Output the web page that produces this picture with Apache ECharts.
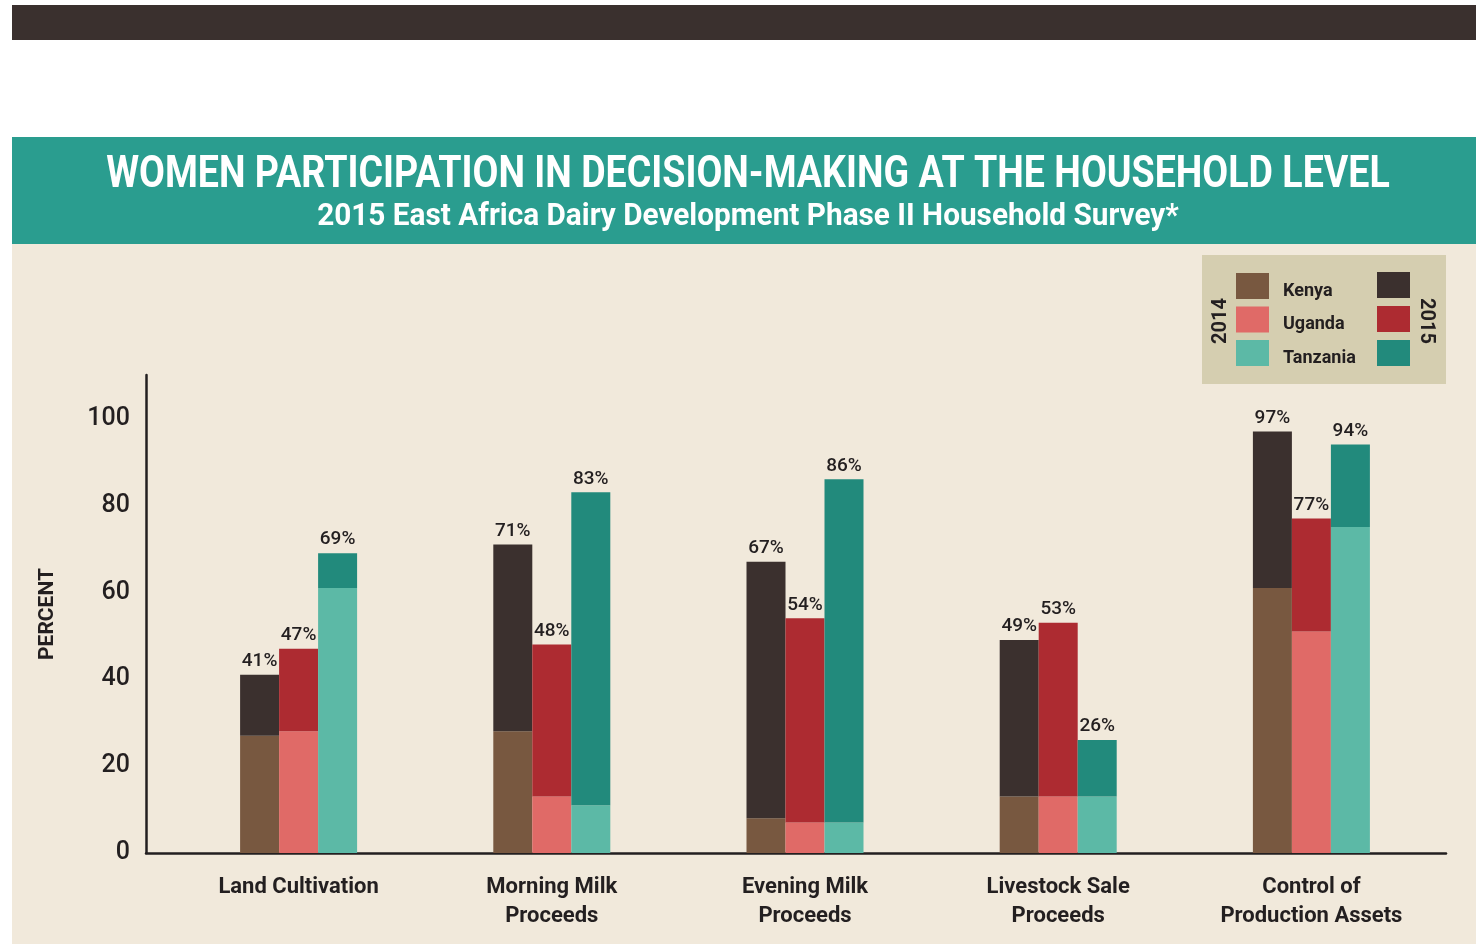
<!DOCTYPE html>
<html>
<head>
<meta charset="utf-8">
<script src="https://cdn.jsdelivr.net/npm/echarts@6/dist/echarts.min.js"></script>
<style>
  body { margin: 0; background: #fff; }
  #chart { width: 1476px; height: 944px; }
</style>
</head>
<body>
<div id="chart"></div>
<script>
// categories and values (percent)
let categories = ['Land Cultivation', 'Morning Milk\nProceeds', 'Evening Milk\nProceeds', 'Livestock Sale\nProceeds', 'Control of\nProduction Assets'];
let countries = ['Kenya', 'Uganda', 'Tanzania'];
let kenya2014 = [27, 28, 8, 13, 61];
let kenya2015 = [41, 71, 67, 49, 97];
let uganda2014 = [28, 13, 7, 13, 51];
let uganda2015 = [47, 48, 54, 53, 77];
let tanzania2014 = [61, 11, 7, 13, 75];
let tanzania2015 = [69, 83, 86, 26, 94];
let yTicks = [0, 20, 40, 60, 80, 100];

let colors2014 = ['#785840', '#e06a67', '#5cb9a6'];
let colors2015 = ['#3b302e', '#ad2b31', '#228a7c'];
let ink = '#231f20';

let myChart = echarts.init(document.getElementById('chart'));

let data2014 = [kenya2014, uganda2014, tanzania2014];
let data2015 = [kenya2015, uganda2015, tanzania2015];

let series = [];
for (let c = 0; c < countries.length; c++) {
    let base = data2014[c];
    let total = data2015[c];
    series.push({
        name: countries[c] + ' 2014',
        type: 'bar',
        xAxisIndex: 1,
        yAxisIndex: 1,
        stack: countries[c],
        barWidth: 39,
        barGap: '0%',
        itemStyle: {color: colors2014[c]},
        data: base
    });
    series.push({
        name: countries[c] + ' 2015',
        type: 'bar',
        xAxisIndex: 1,
        yAxisIndex: 1,
        stack: countries[c],
        barWidth: 39,
        barGap: '0%',
        itemStyle: {color: colors2015[c]},
        label: {
            show: true,
            position: 'top',
            distance: 4,
            color: ink,
            fontFamily: 'Roboto',
            fontWeight: 500,
            fontSize: 19,
            formatter: function (p) {
                return total[p.dataIndex] + '%';
            }
        },
        data: total.map((v, i) => v - base[i])
    });
}

let option = {
    animation: false,
    backgroundColor: '#ffffff',
    graphic: [
        {type: 'rect', z: -10, shape: {x: 12, y: 5, width: 1464, height: 35}, style: {fill: '#3a302e'}},
        {type: 'rect', z: -10, shape: {x: 12, y: 137, width: 1464, height: 107}, style: {fill: '#2a9d8f'}},
        {type: 'rect', z: -10, shape: {x: 12, y: 244, width: 1464, height: 700}, style: {fill: '#f1e9db'}},
        // title, squeezed to look like the condensed face
        {type: 'text', x: 748, y: 176, scaleX: 0.835, style: {
            text: 'WOMEN PARTICIPATION IN DECISION-MAKING AT THE HOUSEHOLD LEVEL',
            fill: '#fff', font: 'bold 45px Roboto',
            textAlign: 'center', textVerticalAlign: 'middle'}},
        {type: 'text', x: 748, y: 217, scaleX: 0.93, style: {
            text: '2015 East Africa Dairy Development Phase II Household Survey*',
            fill: '#fff', font: 'bold 32px Roboto',
            textAlign: 'center', textVerticalAlign: 'middle'}},
        // legend box
        {type: 'rect', z: -5, shape: {x: 1202, y: 255, width: 244, height: 129}, style: {fill: '#d5ceb0'}},
        {type: 'text', x: 1221, y: 321, rotation: Math.PI / 2, style: {
            text: '2014', fill: ink, font: 'bold 20px Roboto',
            textAlign: 'center', textVerticalAlign: 'middle'}},
        {type: 'text', x: 1426, y: 321, rotation: -Math.PI / 2, style: {
            text: '2015', fill: ink, font: 'bold 20px Roboto',
            textAlign: 'center', textVerticalAlign: 'middle'}}
    ],
    legend: [
        {
            data: countries.map(n => n + ' 2014'),
            orient: 'vertical',
            left: 1236,
            top: 272,
            padding: 0,
            itemWidth: 33,
            itemHeight: 26,
            itemGap: 5.5,
            icon: 'rect',
            selectedMode: false,
            formatter: function (name) { return '{n|' + name.split(' ')[0] + '}'; },
            textStyle: {
                color: ink, fontFamily: 'Roboto', fontWeight: 'bold', fontSize: 18,
                rich: {n: {color: ink, fontFamily: 'Roboto', fontWeight: 'bold', fontSize: 18, lineHeight: 16, padding: [10, 0, 0, 9]}}
            }
        },
        {
            data: countries.map(n => n + ' 2015'),
            orient: 'vertical',
            left: 1377,
            top: 272,
            padding: 0,
            itemWidth: 33,
            itemHeight: 26,
            itemGap: 8,
            icon: 'rect',
            selectedMode: false,
            formatter: function () { return ''; }
        }
    ],
    grid: [
        {left: 146, right: 30, top: 375, bottom: 91},
        {left: 172, right: 38, top: 375, bottom: 91}
    ],
    xAxis: [
        {
            type: 'value', gridIndex: 0, min: 0, max: 1,
            axisLine: {show: true, lineStyle: {color: ink, width: 2.5}},
            axisTick: {show: false}, axisLabel: {show: false}, splitLine: {show: false}
        },
        {
            type: 'category', gridIndex: 1, data: categories,
            axisLine: {show: false}, axisTick: {show: false},
            axisLabel: {
                color: ink, fontFamily: 'Roboto', fontWeight: 'bold',
                fontSize: 22, lineHeight: 29, margin: 20
            }
        }
    ],
    yAxis: [
        {
            type: 'value', gridIndex: 0, min: 0, max: 110, interval: 20,
            name: 'PERCENT', nameLocation: 'middle', nameRotate: 90, nameGap: 88,
            nameTextStyle: {color: ink, fontFamily: 'Roboto', fontWeight: 'bold', fontSize: 21},
            axisLine: {show: true, lineStyle: {color: ink, width: 2.5}},
            axisTick: {show: false}, splitLine: {show: false},
            axisLabel: {
                color: ink, fontFamily: 'Roboto', fontWeight: 500, fontSize: 25, margin: 16,
                formatter: function (v) { return yTicks.indexOf(v) >= 0 ? String(v) : ''; }
            }
        },
        {
            type: 'value', gridIndex: 1, min: 0, max: 110, show: false
        }
    ],
    series: series
};
myChart.setOption(option);
</script>
</body>
</html>
